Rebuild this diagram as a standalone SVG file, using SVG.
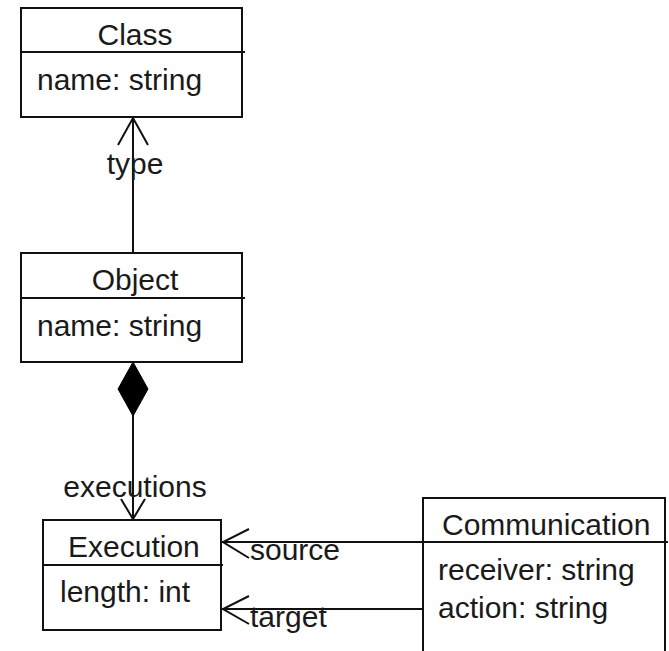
<svg xmlns="http://www.w3.org/2000/svg" width="669" height="651" viewBox="0 0 669 651">
<style>
.box{fill:#fff;stroke:#111;stroke-width:2}
.ln{stroke:#111;stroke-width:2;fill:none}
text{font-family:"Liberation Sans",Arial,sans-serif;font-size:30px;fill:#1a1a1a}
.c{text-anchor:middle}
</style>
<rect width="669" height="651" fill="#fff"/>
<g id="connectors">
<line class="ln" x1="133" y1="118" x2="133" y2="253"/>
<polyline class="ln" points="118,145 133,118 148,145"/>
<text class="c" x="135" y="174">type</text>
<line class="ln" x1="133" y1="415" x2="133" y2="520"/>
<polygon points="133,362 118,389 133,416 148,389" fill="#000" stroke="#000" stroke-width="1"/>
<polyline class="ln" points="121,499 133,519 145,499"/>
<text class="c" x="135" y="497">executions</text>
<line class="ln" x1="222" y1="542" x2="423" y2="542"/>
<polyline class="ln" points="249,529 223,542 249,558"/>
<text x="250" y="560">source</text>
<line class="ln" x1="222" y1="609" x2="423" y2="609"/>
<polyline class="ln" points="249,596 223,609 249,624"/>
<text x="250" y="627">target</text>
</g>
<g id="class">
<rect class="box" x="21" y="8" width="221" height="109"/>
<line class="ln" x1="21" y1="52" x2="245" y2="52"/>
<text class="c" x="135" y="45">Class</text>
<text x="37" y="90">name: string</text>
</g>
<g id="object">
<rect class="box" x="21" y="253" width="221" height="109"/>
<line class="ln" x1="21" y1="298" x2="245" y2="298"/>
<text class="c" x="135" y="290">Object</text>
<text x="37" y="336">name: string</text>
</g>
<g id="execution">
<rect class="box" x="43" y="520" width="178" height="110"/>
<line class="ln" x1="43" y1="565" x2="223" y2="565"/>
<text x="68" y="557">Execution</text>
<text x="60" y="602">length: int</text>
</g>
<g id="communication">
<rect class="box" x="423" y="498" width="242" height="170"/>
<line class="ln" x1="423" y1="542" x2="668" y2="542"/>
<text x="442" y="535">Communication</text>
<text x="438" y="580">receiver: string</text>
<text x="438" y="618">action: string</text>
</g>
</svg>
